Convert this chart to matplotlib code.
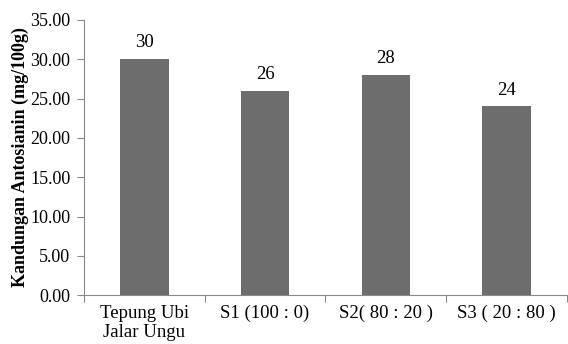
import matplotlib
matplotlib.use("Agg")
import matplotlib.pyplot as plt

categories = ["Tepung Ubi\nJalar Ungu", "S1 (100 : 0)", "S2( 80 : 20 )", "S3 ( 20 : 80 )"]
values = [30, 26, 28, 24]
yticks = [0, 5, 10, 15, 20, 25, 30, 35]

plt.rcParams['font.family'] = ['Liberation Serif', 'DejaVu Serif']

fig = plt.figure(figsize=(5.68, 3.44), dpi=100)
ax = fig.add_axes([0.148, 0.142, 0.850, 0.800])

x = list(range(len(categories)))
bars = ax.bar(x, values, width=0.4, color='#6d6d6d')
for xi, v in zip(x, values):
    ax.text(xi, v + 1.0, f"{v}", ha='center', va='bottom', fontsize=13.5)

ax.set_xlim(-0.5, len(categories) - 0.5)
ax.set_ylim(0, 35)
ax.set_yticks(yticks)
ax.set_yticklabels([f"{t:.2f}" for t in yticks], fontsize=13)
ax.set_xticks([i - 0.5 for i in range(len(categories) + 1)], minor=False)
ax.set_xticklabels([])
ax.set_xticks(x, minor=True)
ax.set_xticklabels(categories, minor=True, fontsize=13.5, linespacing=1.2)
ax.tick_params(axis='x', which='minor', length=0, pad=7)
ax.tick_params(axis='x', which='major', length=5, color='#898989', direction='out')
ax.tick_params(axis='y', length=5, color='#898989', direction='out', pad=5)

for s in ['top', 'right']:
    ax.spines[s].set_visible(False)
for s in ['left', 'bottom']:
    ax.spines[s].set_color('#898989')

ax.set_ylabel("Kandungan Antosianin (mg/100g)", fontsize=13, fontweight='bold', labelpad=1)

fig.savefig("out.png", dpi=100)
